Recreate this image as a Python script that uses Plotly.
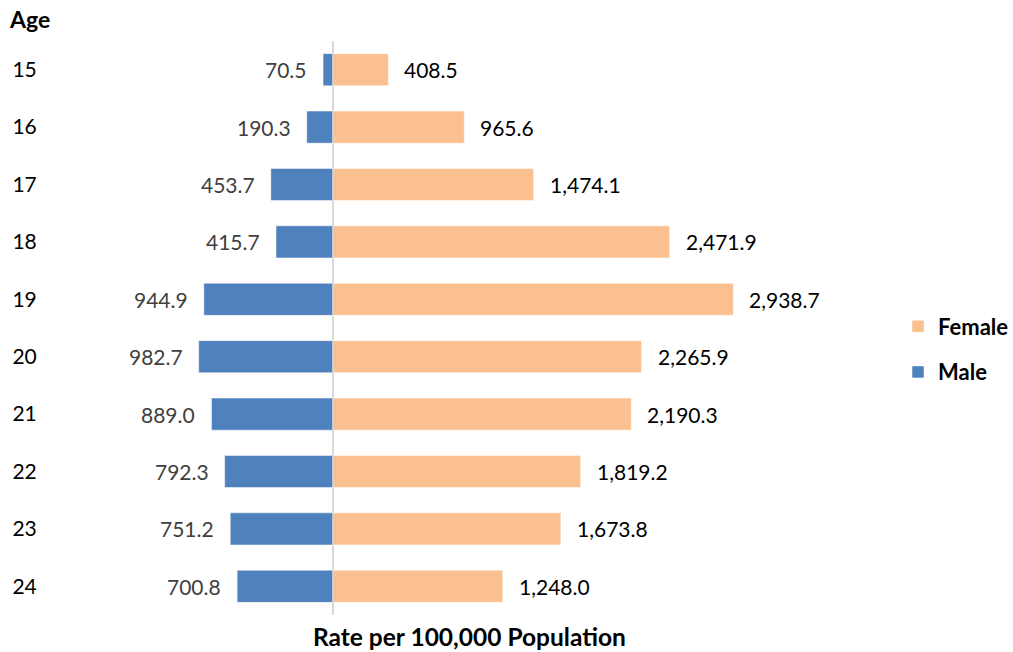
import plotly.graph_objects as go

ages = ["15", "16", "17", "18", "19", "20", "21", "22", "23", "24"]
male = [70.5, 190.3, 453.7, 415.7, 944.9, 982.7, 889.0, 792.3, 751.2, 700.8]
female = [408.5, 965.6, 1474.1, 2471.9, 2938.7, 2265.9, 2190.3, 1819.2, 1673.8, 1248.0]

MALE_C = "#4F81BD"
FEMALE_C = "#FAC090"
FONT = "Lato"

fig = go.Figure()
fig.add_trace(go.Bar(y=ages, x=female, orientation="h", name="Female",
                     marker=dict(color=FEMALE_C, line=dict(color="white", width=0.5)),
                     legendgroup="f", hoverinfo="skip"))
fig.add_trace(go.Bar(y=ages, x=[-v for v in male], orientation="h", name="Male",
                     marker=dict(color=MALE_C, line=dict(color="white", width=0.5)),
                     legendgroup="m", hoverinfo="skip"))

annotations = []
for i, (a, m, f) in enumerate(zip(ages, male, female)):
    annotations.append(dict(x=-m, y=i, xref="x", yref="y", text=f"{m:,.1f}",
                            showarrow=False, xanchor="right", xshift=-14,
                            font=dict(family=FONT, size=21, color="#404040")))
    annotations.append(dict(x=f, y=i, xref="x", yref="y", text=f"{f:,.1f}",
                            showarrow=False, xanchor="left", xshift=14,
                            font=dict(family=FONT, size=21, color="#000000")))

annotations.append(dict(x=-47/821, y=1 + 22/574, xref="paper", yref="paper", text="<b>Age</b>",
                        showarrow=False, xanchor="left", yanchor="middle", xshift=-6,
                        font=dict(family=FONT, size=23, color="#000000")))
annotations.append(dict(x=0.5, y=-21/574, xref="paper", yref="paper",
                        text="<b>Rate per 100,000 Population</b>",
                        showarrow=False, xanchor="center", yanchor="middle",
                        font=dict(family=FONT, size=24.5, color="#000000")))
annotations.append(dict(x=(385 - 57) / 821, y=1 + (41 - 3) / 574, xref="paper", yref="paper",
                        text="<b>Rates Among Adolescents, 15–24, 2019</b>",
                        showarrow=False, xanchor="left", yanchor="bottom",
                        font=dict(family=FONT, size=24, color="#000000")))

fig.update_layout(
    width=1013, height=652,
    margin=dict(l=57, r=135, t=41, b=37),
    paper_bgcolor="white", plot_bgcolor="white",
    barmode="relative", bargap=0.44,
    font=dict(family=FONT, size=20, color="#000000"),
    showlegend=True,
    legend=dict(xref="container", yref="container", x=898 / 1013, y=(652 - 349.5) / 652,
                xanchor="left", yanchor="middle",
                traceorder="grouped", tracegroupgap=14,
                font=dict(family=FONT, size=22, color="#000000", weight="bold"),
                itemwidth=30),
    annotations=annotations,
)
fig.update_xaxes(range=[-2000, 4000], showticklabels=False, showgrid=False,
                 zeroline=True, zerolinecolor="#D9D9D9", zerolinewidth=2,
                 showline=False, fixedrange=True)
fig.update_yaxes(type="category", range=[len(ages) - 0.5, -0.5], showgrid=False, showline=False,
                 ticks="outside", ticklen=18, tickcolor="rgba(0,0,0,0)",
                 tickfont=dict(family=FONT, size=21, color="#000000"),
                 fixedrange=True)

fig.write_html("out.html")
